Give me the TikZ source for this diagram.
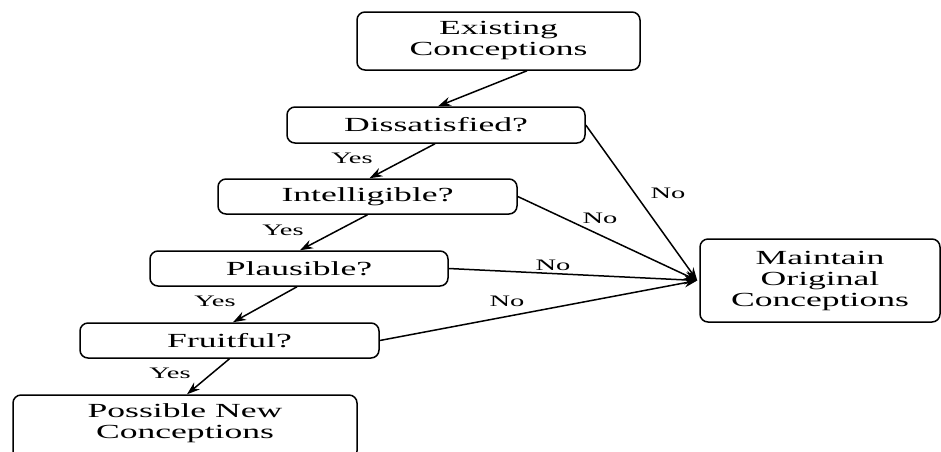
\documentclass[tikz,border=0pt]{standalone}
\usepackage{fontspec}
\setmainfont{Liberation Serif}[FakeStretch=1.78]
\usetikzlibrary{arrows.meta}
\begin{document}
\begin{tikzpicture}[x=1pt,y=-1pt,
  box/.style={draw, line width=1.5pt, rounded corners=8pt, align=center,
    font=\fontsize{20}{21}\selectfont, inner sep=0pt},
  lab/.style={font=\fontsize{16}{18}\selectfont, inner sep=0pt},
  arr/.style={line width=1.5pt, -{Stealth[length=13pt,width=9pt]}}]
\useasboundingbox (0,0) rectangle (941,451);
\node[box, minimum width=283pt, minimum height=58pt] (ex) at (498.5,41) {Existing\\Conceptions};
\node[box, minimum width=298pt, minimum height=36pt] (dis) at (436,125) {Dissatisfied?};
\node[box, minimum width=299pt, minimum height=35pt] (int) at (367.5,196.5) {Intelligible?};
\node[box, minimum width=298pt, minimum height=35pt] (pla) at (299,268.5) {Plausible?};
\node[box, minimum width=299pt, minimum height=35pt] (fru) at (229.5,340.5) {Fruitful?};
\node[box, minimum width=344pt, minimum height=64pt] (pos) at (185,427) {};
\node[align=center, font=\fontsize{20}{21}\selectfont, inner sep=0pt] (post) at (185,423) {Possible New\\Conceptions};
\node[box, minimum width=240pt, minimum height=83pt] (main) at (820,280.5) {Maintain\\Original\\Conceptions};

\draw[arr] ([xshift=28.5pt]ex.south) -- ([xshift=2pt]dis.north);
\draw[arr] ([xshift=-1pt]dis.south) -- ([xshift=2pt]int.north);
\draw[arr] (int.south) -- ([xshift=1pt]pla.north);
\draw[arr] ([xshift=-2pt]pla.south) -- ([xshift=3.5pt]fru.north);
\draw[arr] (fru.south) -- ([xshift=2pt]pos.north);

\draw[arr] (dis.east) -- ([xshift=-2pt]main.west);
\draw[arr] (int.east) -- ([xshift=-2pt]main.west);
\draw[arr] (pla.east) -- ([xshift=-2pt]main.west);
\draw[arr] (fru.east) -- ([xshift=-2pt]main.west);

\node[lab] (y1) at (352,158) {Yes};
\node[lab] (y2) at (283,230) {Yes};
\node[lab] (y3) at (215,301) {Yes};
\node[lab] (y4) at (170,373) {Yes};
\node[lab] (n1) at (668,193) {No};
\node[lab] (n2) at (600,218) {No};
\node[lab] (n3) at (553,265) {No};
\node[lab] (n4) at (507,301) {No};
\end{tikzpicture}
\end{document}
